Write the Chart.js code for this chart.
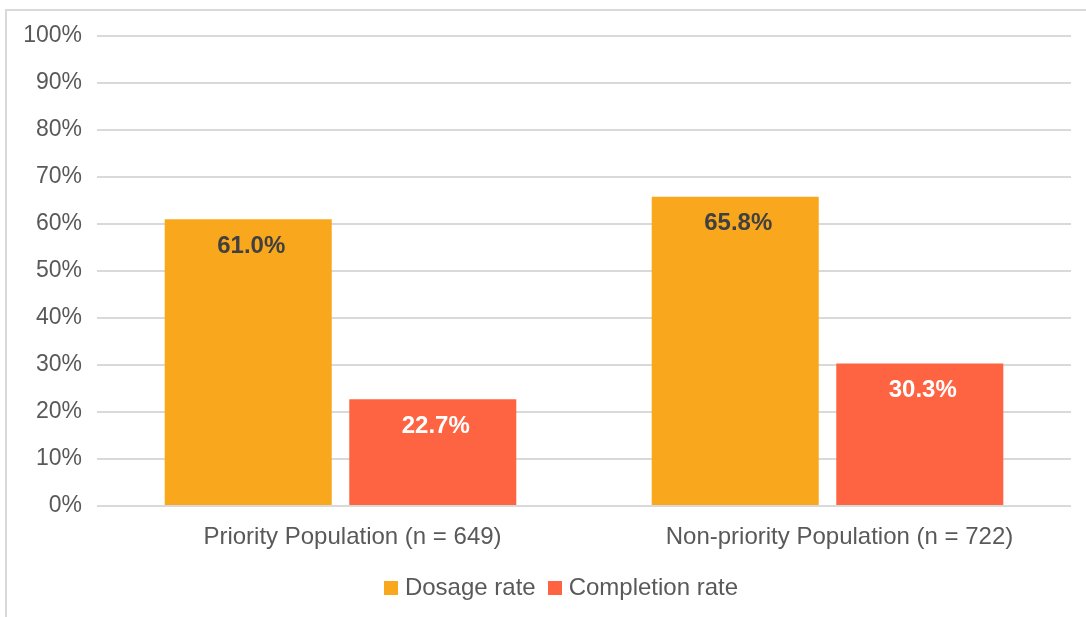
<!DOCTYPE html>
<html lang="en">
<head>
  <meta charset="UTF-8">
  <title>Dosage and Completion Rates</title>
  <script src="https://cdn.jsdelivr.net/npm/chart.js"></script>
  <style>
    html, body {
      margin: 0;
      padding: 0;
      width: 1086px;
      height: 617px;
      overflow: hidden;
      background: #fff;
      font-family: "Liberation Sans", Arial, sans-serif;
    }

    .frame {
      position: absolute;
      left: 5px;
      top: 9px;
      width: 1100px;
      height: 640px;
      border: 2px solid #d9d9d9;
      box-sizing: border-box;
    }

    .wrap {
      position: absolute;
      left: 0;
      top: 0;
      width: 1086px;
      height: 617px;
    }
  </style>
</head>
<body>
  <div class="frame"></div>
  <div class="wrap"><canvas id="barChart" width="1086" height="617"></canvas></div>

  <script>
    const categories = ['Priority Population (n = 649)', 'Non-priority Population (n = 722)'];
    const dosageRate = [61.0, 65.8];
    const completionRate = [22.7, 30.3];
    const seriesNames = ['Dosage rate', 'Completion rate'];

    const barColors = ['#f9a81d', '#ff6442'];
    const labelColors = ['#404040', '#ffffff'];
    const fontFamily = '"Liberation Sans", Arial, sans-serif';

    // small square swatches for the legend (lets the text sit closer to the box)
    const swatches = barColors.map(c => {
      const cv = document.createElement('canvas');
      cv.width = 14;
      cv.height = 14;
      const g = cv.getContext('2d');
      g.fillStyle = c;
      g.fillRect(0, 0, 14, 14);
      return cv;
    });

    // draws the value inside the top of each bar
    const barLabels = {
      id: 'barLabels',
      afterDatasetsDraw(chart) {
        const ctx = chart.ctx;
        ctx.save();
        ctx.font = 'bold 24px ' + fontFamily;
        ctx.textAlign = 'center';
        ctx.textBaseline = 'middle';
        chart.data.datasets.forEach((ds, i) => {
          chart.getDatasetMeta(i).data.forEach((bar, j) => {
            ctx.fillStyle = labelColors[i];
            ctx.fillText(ds.data[j].toFixed(1) + '%', bar.x + 3, bar.y + 27);
          });
        });
        ctx.restore();
      }
    };

    // the legend in the original sits a bit right of centre
    const legendShift = {
      id: 'legendShift',
      afterLayout(chart) {
        chart.legend.left += 28;
        chart.legend.right += 28;
      }
    };

    new Chart(document.getElementById('barChart'), {
      type: 'bar',
      data: {
        labels: categories,
        datasets: [{
          label: seriesNames[0],
          data: dosageRate,
          backgroundColor: barColors[0],
          categoryPercentage: 0.758,
          barPercentage: 0.905
        }, {
          label: seriesNames[1],
          data: completionRate,
          backgroundColor: barColors[1],
          categoryPercentage: 0.758,
          barPercentage: 0.905
        }]
      },
      options: {
        responsive: false,
        animation: false,
        devicePixelRatio: 1,
        layout: {
          padding: { top: 36, right: 15, left: 0, bottom: 7 }
        },
        plugins: {
          tooltip: { enabled: false },
          legend: {
            position: 'bottom',
            labels: {
              color: '#595959',
              font: { family: fontFamily, size: 24 },
              usePointStyle: true,
              boxHeight: 14,
              pointStyleWidth: 4,
              padding: 17,
              generateLabels(chart) {
                const items = Chart.defaults.plugins.legend.labels.generateLabels(chart);
                items.forEach((it, i) => { it.pointStyle = swatches[i]; });
                return items;
              }
            }
          }
        },
        scales: {
          x: {
            grid: { display: false, drawTicks: false },
            border: { display: false },
            ticks: {
              color: '#595959',
              font: { family: fontFamily, size: 24 },
              padding: 17,
              labelOffset: 12,
              maxRotation: 0
            },
            afterFit(scale) { scale.height = 53; }
          },
          y: {
            min: 0,
            max: 100,
            border: { display: false },
            grid: { color: '#d9d9d9', lineWidth: 2, drawTicks: false },
            ticks: {
              stepSize: 10,
              color: '#595959',
              font: { family: fontFamily, size: 23 },
              padding: 15,
              callback: v => v + '%'
            },
            afterFit(scale) { scale.width = 97; }
          }
        }
      },
      plugins: [barLabels, legendShift]
    });
  </script>
</body>
</html>
